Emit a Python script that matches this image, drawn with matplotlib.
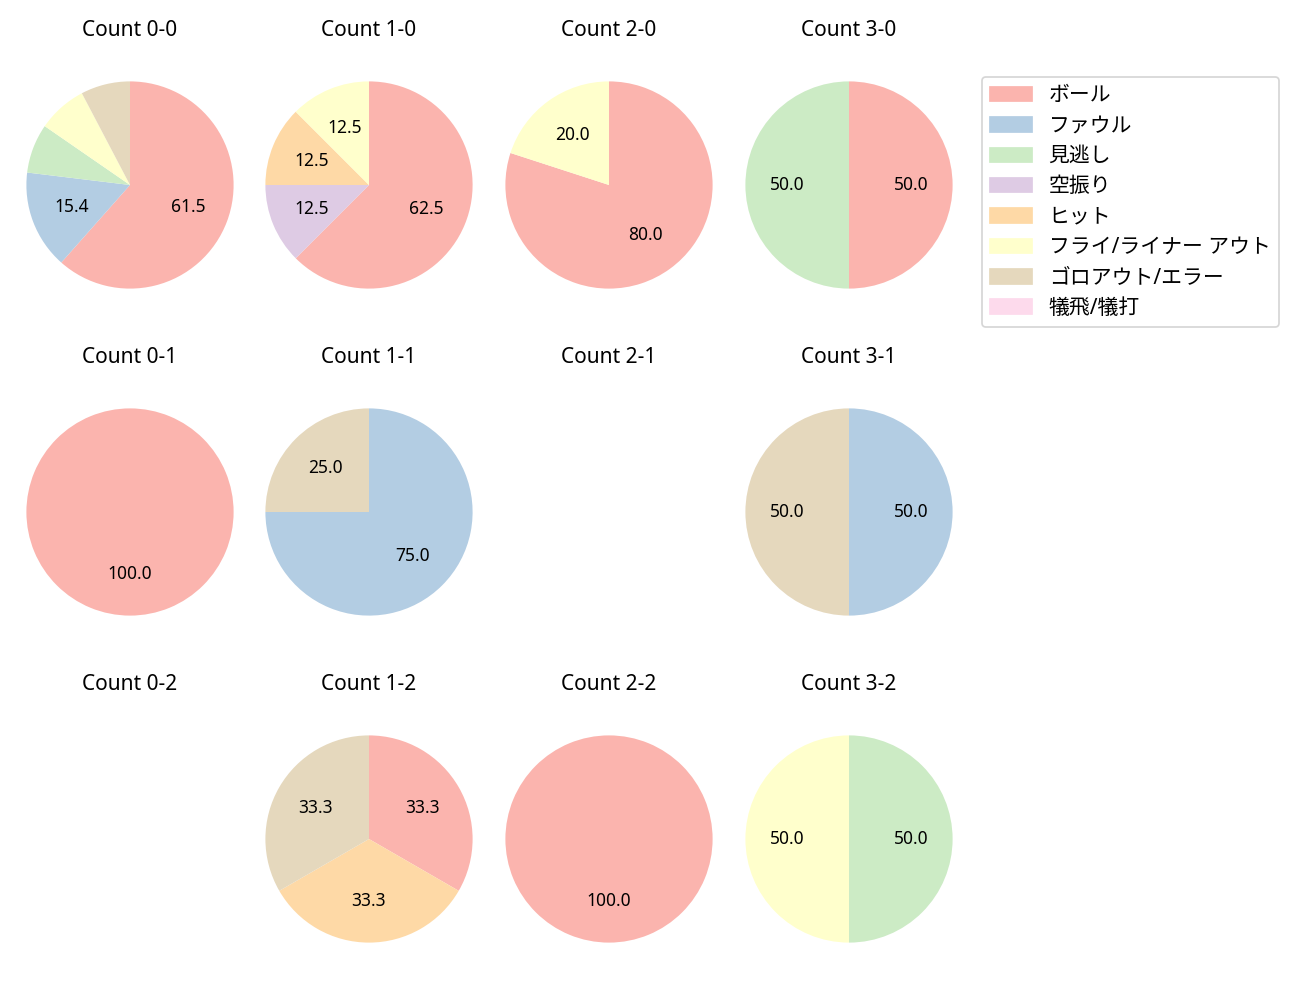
import matplotlib.pyplot as plt

plt.rcParams['font.family'] = ['Noto Sans', 'Noto Sans CJK JP', 'DejaVu Sans']

labels = ['ボール', 'ファウル', '見逃し', '空振り', 'ヒット',
          'フライ/ライナー アウト', 'ゴロアウト/エラー', '犠飛/犠打']
colors = plt.cm.Pastel1.colors[:8]

counts = {
    '0-0': [8, 2, 1, 0, 0, 1, 1, 0],
    '1-0': [5, 0, 0, 1, 1, 1, 0, 0],
    '2-0': [4, 0, 0, 0, 0, 1, 0, 0],
    '3-0': [1, 0, 1, 0, 0, 0, 0, 0],
    '0-1': [1, 0, 0, 0, 0, 0, 0, 0],
    '1-1': [0, 3, 0, 0, 0, 0, 1, 0],
    '2-1': [0, 0, 0, 0, 0, 0, 0, 0],
    '3-1': [0, 1, 0, 0, 0, 0, 1, 0],
    '0-2': [0, 0, 0, 0, 0, 0, 0, 0],
    '1-2': [1, 0, 0, 0, 1, 0, 1, 0],
    '2-2': [1, 0, 0, 0, 0, 0, 0, 0],
    '3-2': [0, 0, 1, 0, 0, 1, 0, 0],
}

W, H = 1300, 1000
fig = plt.figure(figsize=(10.4, 8), dpi=125)
col_x = [130, 369, 609, 849]
row_y = [185, 512, 839]
side = 259
for strikes in range(3):
    for balls in range(4):
        cx, cy = col_x[balls], row_y[strikes]
        ax = fig.add_axes([(cx - side / 2) / W, 1 - (cy + side / 2) / H, side / W, side / H])
        key = f'{balls}-{strikes}'
        vals = counts[key]
        ax.set_title(f'Count {key}', pad=11)
        if sum(vals) == 0:
            ax.set(xlim=(-1.25, 1.25), ylim=(-1.25, 1.25), xticks=[], yticks=[])
            ax.set_aspect('equal')
            ax.set_frame_on(False)
            continue
        ax.pie(vals, colors=colors, startangle=90, counterclock=False,
               autopct=lambda p: f'{p:.1f}' if p >= 10 else '')

handles = [plt.Rectangle((0, 0), 1, 1, color=c) for c in colors]
fig.legend(handles, labels, loc='upper left', bbox_to_anchor=(982 / W, 1 - 77 / H),
           borderaxespad=0, fontsize=12, labelspacing=0.45)
plt.savefig('out.png')
